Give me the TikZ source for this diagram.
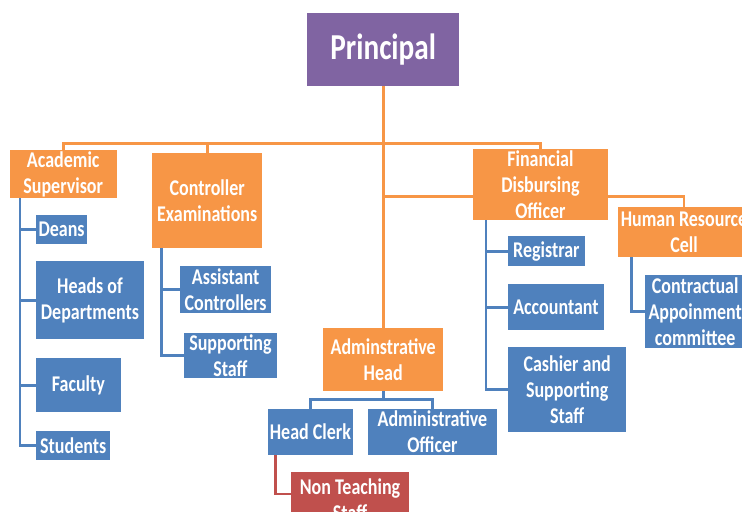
\documentclass[tikz,border=0pt]{standalone}
\usepackage{fontspec}
\setmainfont{Carlito}[FakeStretch=0.8]
\usetikzlibrary{positioning}
\definecolor{orgorange}{HTML}{F79646}
\definecolor{orgblue}{HTML}{4F81BD}
\definecolor{orgpurple}{HTML}{8064A2}
\definecolor{orgred}{HTML}{C0504D}
\begin{document}
\begin{tikzpicture}[
  box/.style={inner sep=1pt,align=center,text=white,font=\fontsize{16}{18.5}\selectfont\bfseries},
  head/.style={box,fill=orgorange},
  sub/.style={box,fill=orgblue},
  staff/.style={box,fill=orgred},
  top/.style={box,fill=orgpurple,font=\fontsize{26}{28}\selectfont\bfseries},
  olink/.style={draw=orgorange,line width=2pt},
  blink/.style={draw=orgblue,line width=2pt},
  rlink/.style={draw=orgred,line width=2pt}]
  \useasboundingbox (0,0) rectangle (18.55,-12.775);
  \node[top,minimum width=3.80cm,minimum height=1.83cm] (prin) at (9.58,-1.24) {Principal};
  \node[head,minimum width=2.68cm,minimum height=1.13cm] (acad) at (1.58,-4.35) {Academic\\Supervisor};
  \node[head,minimum width=2.75cm,minimum height=2.38cm] (ctrl) at (5.18,-5.01) {Controller\\Examinations};
  \node[head,minimum width=3.38cm,minimum height=1.68cm] (fin) at (13.51,-4.61) {Financial\\Disbursing\\Officer};
  \node[head,minimum width=3.30cm,minimum height=1.25cm] (hr) at (17.10,-5.80) {Human Resource\\Cell};
  \node[head,minimum width=3.00cm,minimum height=1.58cm] (adm) at (9.58,-8.99) {Adminstrative\\Head};
  \node[sub,minimum width=1.28cm,minimum height=0.73cm] (deans) at (1.54,-5.74) {Deans};
  \node[sub,minimum width=2.70cm,minimum height=1.95cm] (hod) at (2.25,-7.51) {Heads of\\Departments};
  \node[sub,minimum width=2.13cm,minimum height=1.35cm] (fac) at (1.96,-9.63) {Faculty};
  \node[sub,minimum width=1.85cm,minimum height=0.73cm] (stud) at (1.83,-11.14) {Students};
  \node[sub,minimum width=2.28cm,minimum height=1.18cm] (asst) at (5.64,-7.24) {Assistant\\Controllers};
  \node[sub,minimum width=2.33cm,minimum height=1.05cm] (supp) at (5.76,-8.88) {Supporting\\Staff};
  \node[sub,minimum width=2.13cm,minimum height=1.15cm] (hc) at (7.76,-10.80) {Head Clerk};
  \node[sub,minimum width=3.23cm,minimum height=1.15cm] (ao) at (10.81,-10.80) {Administrative\\Officer};
  \node[staff,minimum width=2.95cm,minimum height=1.40cm] (nts) at (8.75,-12.50) {Non Teaching\\Staff};
  \node[sub,minimum width=1.93cm,minimum height=0.75cm] (reg) at (13.66,-6.28) {Registrar};
  \node[sub,minimum width=2.40cm,minimum height=1.15cm] (acc) at (13.90,-7.68) {Accountant};
  \node[sub,minimum width=2.95cm,minimum height=2.13cm] (cash) at (14.18,-9.74) {Cashier and\\Supporting\\Staff};
  \node[sub,minimum width=2.50cm,minimum height=1.83cm] (cac) at (17.38,-7.79) {Contractual\\Appoinment\\committee};
  % bus points
  \coordinate (topbus) at (9.58,-3.58);
  \coordinate (acadbus) at (0.50,0);
  \coordinate (ctrlbus) at (4.03,0);
  \coordinate (finbus) at (12.15,0);
  \coordinate (hrbus) at (15.78,0);
  \coordinate (hcbus) at (6.88,0);
  % principal links
  \draw[olink] (prin.south) -- (adm.north);
  \draw[olink] (acad.north) |- (topbus) -| (fin.north);
  \draw[olink] (ctrl.north) |- (topbus);
  \draw[olink] ([yshift=-0.3cm]fin.west) -- ([yshift=-0.3cm]fin.west -| prin.south);
  \draw[olink] ([yshift=-0.3cm]fin.east) -| (hr.north);
  % section links
  \draw[blink] (acadbus |- acad.south) |- (stud.west);
  \foreach \n in {deans,hod,fac} \draw[blink] (\n.west) -- (\n.west -| acadbus);
  \draw[blink] (ctrlbus |- ctrl.south) |- (supp.west);
  \draw[blink] (asst.west) -- (asst.west -| ctrlbus);
  \draw[blink] (finbus |- fin.south) |- (cash.west);
  \foreach \n in {reg,acc} \draw[blink] (\n.west) -- (\n.west -| finbus);
  \draw[blink] (hrbus |- hr.south) |- (cac.west);
  \draw[blink] (adm.south) -- ++(0,-0.2) coordinate (admbus) -| (hc.north);
  \draw[blink] (admbus) -| (ao.north);
  \draw[rlink] (hcbus |- hc.south) |- ([yshift=0.15cm]nts.west);
\end{tikzpicture}
\end{document}
